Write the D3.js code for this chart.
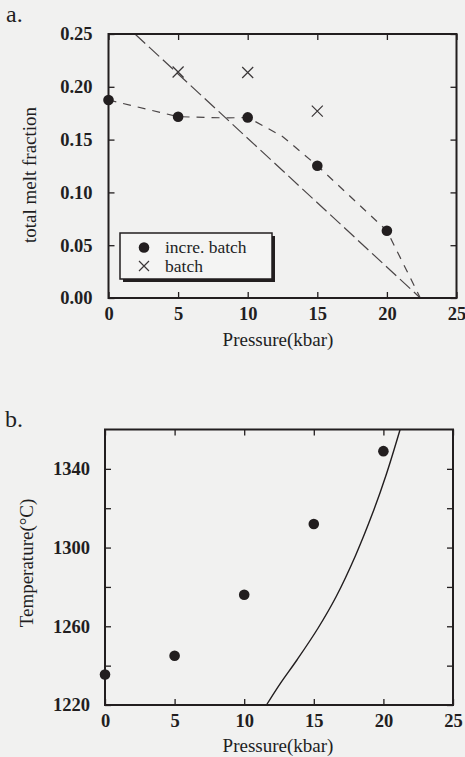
<!DOCTYPE html>
<html>
<head>
<meta charset="utf-8">
<script src="https://cdn.jsdelivr.net/npm/d3@7"></script>
<style>
	html, body { margin: 0; padding: 0; background: #f1f1f0; }
	svg { display: block; }
	text { font-family: "Liberation Serif", "Times New Roman", serif; fill: #221e1f; }
	.tick text { font-weight: bold; font-size: 18.5px; }
</style>
</head>
<body>
<script>
// panel a: total melt fraction vs pressure
var pressureA = [0, 5, 10, 15, 20],
	increBatchMelt = [0.1875, 0.1717, 0.171, 0.1253, 0.0637],
	batchP = [5, 10, 15],
	batchMelt = [0.214, 0.2135, 0.177],
	increCurveP = [0, 5, 8.5, 10, 12.5, 15, 20, 22.4],
	increCurveMelt = [0.1875, 0.1717, 0.1705, 0.171, 0.153, 0.1253, 0.0637, 0],
	batchLineP = [1.9, 22.4],
	batchLineMelt = [0.25, 0],
	xTicks = [0, 5, 10, 15, 20, 25],
	meltTicks = [0, 0.05, 0.1, 0.15, 0.2, 0.25];

// panel b: temperature vs pressure
var pressureB = [0, 5, 10, 15, 20],
	tempB = [1235.5, 1245, 1276, 1312, 1349],
	solidusP = [11.6, 12.6, 13.8, 15.3, 16.6, 18.0, 19.2, 20.2, 21.2],
	solidusT = [1220, 1231, 1243, 1259, 1275, 1296, 1317, 1337, 1360],
	tempTicks = [1220, 1240, 1260, 1280, 1300, 1320, 1340];

var ink = "#221e1f";

var svg = d3.select("body").append("svg")
	.attr("width", 465)
	.attr("height", 757);

function translate(x, y)
{
	return "translate(" + x + "," + y + ")";
}

function frameAxes(g, x, y, xt, yt, yFormat, lp)
{
	var w = x.range()[1] - x.range()[0],
		h = y.range()[0] - y.range()[1];

	g.append("g")
		.attr("transform", translate(0, y.range()[0]))
		.call(d3.axisBottom(x).tickValues(xt).tickSizeInner(-6).tickSizeOuter(0).tickPadding(9));
	g.append("g")
		.attr("transform", translate(0, y.range()[1]))
		.call(d3.axisTop(x).tickValues(xt).tickSizeInner(-6).tickSizeOuter(0).tickFormat(""));
	g.append("g")
		.attr("transform", translate(x.range()[0], 0))
		.call(d3.axisLeft(y).tickValues(yt).tickSizeInner(-6).tickSizeOuter(0).tickPadding(lp).tickFormat(yFormat));
	g.append("g")
		.attr("transform", translate(x.range()[1], 0))
		.call(d3.axisRight(y).tickValues(yt).tickSizeInner(-6).tickSizeOuter(0).tickFormat(""));

	g.selectAll(".domain").remove();
	g.selectAll(".tick line").attr("stroke", ink).attr("stroke-width", 1.3);
	g.selectAll(".tick text").attr("fill", ink);

	g.append("rect")
		.attr("x", x.range()[0])
		.attr("y", y.range()[1])
		.attr("width", w)
		.attr("height", h)
		.attr("fill", "none")
		.attr("stroke", ink)
		.attr("stroke-width", 2);
}

function dots(g, x, y, xs, ys)
{
	g.selectAll(null)
		.data(xs)
		.enter().append("circle")
			.attr("cx", function(d){return x(d);})
			.attr("cy", function(d, i){return y(ys[i]);})
			.attr("r", 5.3)
			.attr("fill", ink);
}

function crosses(g, x, y, xs, ys, s)
{
	g.selectAll(null)
		.data(xs)
		.enter().append("path")
			.attr("d", function(d, i){
				var cx = x(d), cy = y(ys[i]);
				return "M" + (cx - s) + "," + (cy - s) + "L" + (cx + s) + "," + (cy + s) +
					"M" + (cx - s) + "," + (cy + s) + "L" + (cx + s) + "," + (cy - s);
			})
			.attr("stroke", "#3a3637")
			.attr("stroke-width", 1.2)
			.attr("fill", "none");
}

// ---------- panel a ----------
var xa = d3.scaleLinear().domain([0, 25]).range([108.5, 456.5]);
var ya = d3.scaleLinear().domain([0, 0.25]).range([298, 34]);
var ga = svg.append("g");

var lineA = d3.line()
	.x(function(d){return xa(d[0]);})
	.y(function(d){return ya(d[1]);});

ga.append("path")
	.datum(d3.zip(batchLineP, batchLineMelt))
	.attr("d", lineA)
	.attr("fill", "none")
	.attr("stroke", "#4a4546")
	.attr("stroke-width", 1.2)
	.attr("stroke-dasharray", "14,5");

ga.append("path")
	.datum(d3.zip(increCurveP, increCurveMelt))
	.attr("d", lineA)
	.attr("fill", "none")
	.attr("stroke", "#4a4546")
	.attr("stroke-width", 1.2)
	.attr("stroke-dasharray", "8,7");

frameAxes(ga, xa, ya, xTicks, meltTicks, d3.format(".2f"), 16);
dots(ga, xa, ya, pressureA, increBatchMelt);
crosses(ga, xa, ya, batchP, batchMelt, 5.5);

// legend with drop shadow
var legend = ga.append("g").attr("transform", translate(120, 233));
legend.append("rect")
	.attr("x", 3).attr("y", 3)
	.attr("width", 152).attr("height", 46)
	.attr("fill", ink);
legend.append("rect")
	.attr("width", 152).attr("height", 46)
	.attr("fill", "#f4f4f3")
	.attr("stroke", ink)
	.attr("stroke-width", 1.5);
legend.append("circle")
	.attr("cx", 24).attr("cy", 14.5).attr("r", 5.3)
	.attr("fill", ink);
legend.append("path")
	.attr("d", "M19,28L29,38M19,38L29,28")
	.attr("stroke", "#3a3637").attr("stroke-width", 1.2);
legend.append("text")
	.attr("x", 45).attr("y", 19.5)
	.attr("font-size", 17.5)
	.text("incre. batch");
legend.append("text")
	.attr("x", 45).attr("y", 39)
	.attr("font-size", 17.5)
	.text("batch");

ga.append("text")
	.attr("x", 278).attr("y", 346)
	.attr("text-anchor", "middle")
	.attr("font-size", 19)
	.text("Pressure(kbar)");
ga.append("text")
	.attr("transform", translate(36, 175) + " rotate(-90)")
	.attr("text-anchor", "middle")
	.attr("font-size", 19)
	.text("total melt fraction");
ga.append("text")
	.attr("x", 6).attr("y", 22)
	.attr("font-size", 24)
	.text("a.");

// ---------- panel b ----------
var xb = d3.scaleLinear().domain([0, 25]).range([105, 453]);
var yb = d3.scaleLinear().domain([1220, 1360]).range([705, 429.5]);
var gb = svg.append("g");

gb.append("path")
	.datum(d3.zip(solidusP, solidusT))
	.attr("d", d3.line()
		.x(function(d){return xb(d[0]);})
		.y(function(d){return yb(d[1]);})
		.curve(d3.curveCatmullRom))
	.attr("fill", "none")
	.attr("stroke", ink)
	.attr("stroke-width", 1.4);

frameAxes(gb, xb, yb, xTicks, tempTicks, function(d){return d % 40 === 20 ? d : "";}, 15);
dots(gb, xb, yb, pressureB, tempB);

gb.append("text")
	.attr("x", 278).attr("y", 752)
	.attr("text-anchor", "middle")
	.attr("font-size", 19)
	.text("Pressure(kbar)");
gb.append("text")
	.attr("transform", translate(33, 563) + " rotate(-90)")
	.attr("text-anchor", "middle")
	.attr("font-size", 19)
	.text("Temperature(\u00B0C)");
gb.append("text")
	.attr("x", 5).attr("y", 427)
	.attr("font-size", 24)
	.text("b.");
</script>
</body>
</html>
